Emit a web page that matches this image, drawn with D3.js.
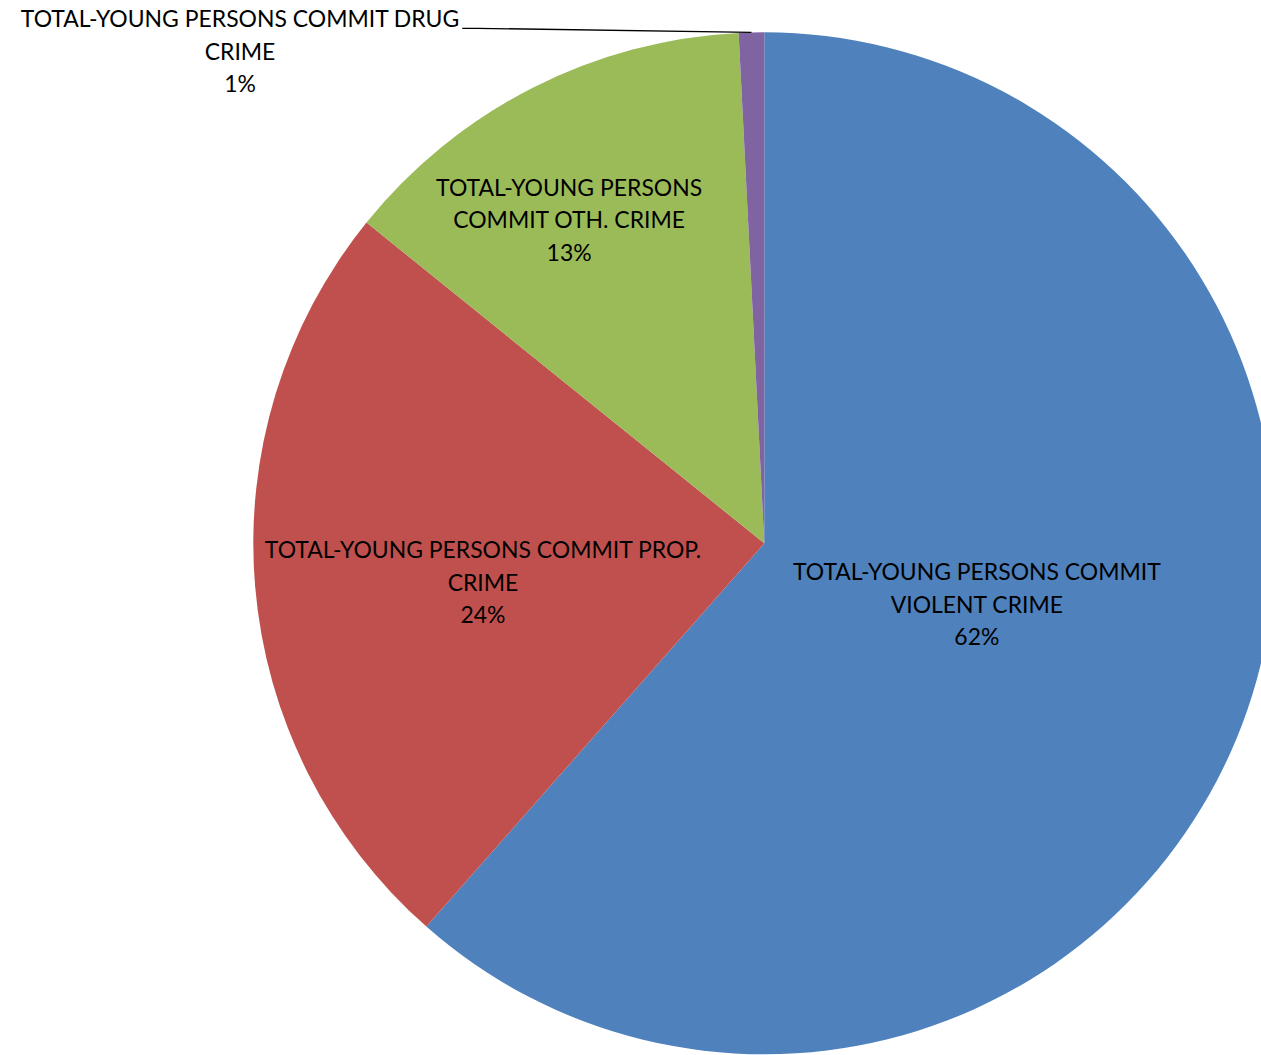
<!DOCTYPE html>
<html>
<head>
<meta charset="utf-8">
<script src="https://cdn.jsdelivr.net/npm/d3@7"></script>
<style>
  html, body { margin: 0; padding: 0; background: #ffffff; }
  svg { display: block; }
</style>
</head>
<body>
<svg id="chart" width="1261" height="1055"></svg>
<script>
// ---- data ----
const categories = [
  "TOTAL-YOUNG PERSONS COMMIT VIOLENT CRIME",
  "TOTAL-YOUNG PERSONS COMMIT PROP. CRIME",
  "TOTAL-YOUNG PERSONS COMMIT OTH. CRIME",
  "TOTAL-YOUNG PERSONS COMMIT DRUG CRIME"
];
const values = [61.5, 24.3, 13.4, 0.8];
const colors = ["#4F81BD", "#C0504D", "#9BBB59", "#8064A2"];

// ---- layout ----
const W = 1261, H = 1055;
const cx = 764.3, cy = 543.3, R = 511;
const firstLineWords = [3, 4, 2, 4];
// label centres (middle line) relative to pie centre, in units of radius
const labelOffsets = [[0.416, 0.121], [-0.5505, 0.0777], [-0.382, -0.631], [-1.026, -0.961]];
const lineGap = 32.5;
const fontFamily = "Lato, 'Open Sans', sans-serif";

const svg = d3.select("#chart");
const g = svg.append("g").attr("transform", `translate(${cx},${cy})`);

const pie = d3.pie().sort(null).value(d => d)(values);
const arc = d3.arc().innerRadius(0).outerRadius(R);
const color = d3.scaleOrdinal().domain(d3.range(values.length)).range(colors);

g.selectAll("path.slice")
  .data(pie)
  .join("path")
  .attr("class", "slice")
  .attr("d", arc)
  .attr("fill", (d, i) => color(i))
  .attr("stroke", "none");

// fit font so reference line width (368px for 26 chars line) matches
const probe = svg.append("text").attr("font-family", fontFamily).attr("font-size", 100)
  .text("TOTAL-YOUNG PERSONS COMMIT");
const probeW = probe.node().getComputedTextLength();
probe.remove();
const fontSize = 100 * 368 / probeW;

const total = d3.sum(values);
const labels = g.selectAll("g.label")
  .data(pie)
  .join("g")
  .attr("class", "label");

labels.each(function(d, i) {
  const words = categories[i].split(" ");
  const lines = [words.slice(0, firstLineWords[i]).join(" "),
                 words.slice(firstLineWords[i]).join(" "),
                 Math.round(d.value / total * 100) + "%"];
  const [ox, oy] = labelOffsets[i];
  const x = ox * R, y = oy * R;
  const t = d3.select(this).append("text")
    .attr("font-family", fontFamily)
    .attr("font-size", fontSize)
    .attr("fill", "#000")
    .attr("text-anchor", "middle");
  lines.forEach((ln, k) => {
    t.append("tspan")
      .attr("x", x)
      .attr("y", y + (k - 1) * lineGap + fontSize * 0.33)
      .text(ln);
  });
  if (i === 3) {
    // leader line from end of first text line to slice edge
    const first = t.select("tspan").node();
    const bb = first.getBBox();
    const mid = (d.startAngle + d.endAngle) / 2;
    const ex = R * Math.sin(mid), ey = -R * Math.cos(mid);
    const sx = bb.x + bb.width + 3, sy = y - lineGap + fontSize * 0.33 + 1;
    d3.select(this).append("path")
      .attr("d", d3.line()([[sx, sy], [sx + 15, sy], [ex, ey]]))
      .attr("fill", "none")
      .attr("stroke", "#000")
      .attr("stroke-width", 1.3);
  }
});
</script>
</body>
</html>
